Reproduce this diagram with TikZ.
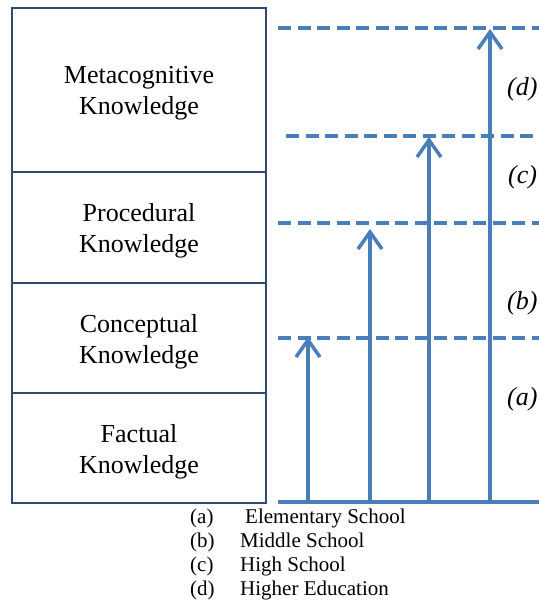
\documentclass[tikz,border=0pt]{standalone}
\usepackage{fontspec}
\setmainfont{Liberation Serif}
\usepackage{xcolor}
\usetikzlibrary{arrows.meta}

\definecolor{boxline}{HTML}{2F4A6D}
\definecolor{levelblue}{HTML}{4A7EBB}

\begin{document}
\begin{tikzpicture}[x=1pt, y=-1pt,
  every node/.style={font=\fontsize{26}{31}\selectfont, align=center},
  kbox/.style={draw=boxline, line width=2.5pt, minimum width=254pt, inner sep=0pt},
  level/.style={levelblue, line width=3.5pt, dash pattern=on 13pt off 6.5pt},
  rise/.style={levelblue, line width=3.5pt,
    -{Straight Barb[length=17pt, width=24pt, line width=3.5pt]}},
  tag/.style={anchor=west, inner sep=0pt, font=\fontsize{26}{30}\selectfont\itshape},
  legend/.style={anchor=base west, inner sep=0pt, font=\fontsize{21}{24}\selectfont}]
  \useasboundingbox (0,0) rectangle (538,602);

  % knowledge levels
  \node[kbox, minimum height=164pt] (meta) at (139,90) {};
  \node[kbox, minimum height=111pt] (proc) at (139,227.5) {};
  \node[kbox, minimum height=110pt] (conc) at (139,338) {};
  \node[kbox, minimum height=110pt] (fact) at (139,448) {};
  \node (tmeta) at (139,93) {Metacognitive\\Knowledge};
  \node (tproc) at (139,231) {Procedural\\Knowledge};
  \node (tconc) at (139,342) {Conceptual\\Knowledge};
  \node (tfact) at (139,452) {Factual\\Knowledge};

  % level marks
  \coordinate (d0) at (278,28);  \coordinate (d1) at (545,28);
  \coordinate (c0) at (286,136); \coordinate (c1) at (545,136);
  \coordinate (b0) at (278,223); \coordinate (b1) at (545,223);
  \coordinate (a0) at (278,338); \coordinate (a1) at (545,338);
  \draw[level] (d0) -- (d1);
  \draw[level] (c0) -- (c1);
  \draw[level] (b0) -- (b1);
  \draw[level] (a0) -- (a1);

  % ground line and arrows
  \coordinate (g0) at (278,502); \coordinate (g1) at (545,502);
  \draw[levelblue, line width=3.5pt] (g0) -- (g1);
  \coordinate (ea) at (308,502); \coordinate (ta) at (308,337);
  \coordinate (eb) at (370,502); \coordinate (tb) at (370,229);
  \coordinate (ec) at (429,502); \coordinate (tc) at (429,137);
  \coordinate (ed) at (490,502); \coordinate (td) at (490,29);
  \draw[rise] (ea) -- (ta);
  \draw[rise] (eb) -- (tb);
  \draw[rise] (ec) -- (tc);
  \draw[rise] (ed) -- (td);

  \node[tag] (ld) at (507,89) {(d)};
  \node[tag] (lc) at (508,177) {(c)};
  \node[tag] (lb) at (507,303) {(b)};
  \node[tag] (la) at (507,399) {(a)};

  % legend
  \node[legend] (k1) at (190,523) {(a)};
  \node[legend] (k2) at (190,547) {(b)};
  \node[legend] (k3) at (190,571) {(c)};
  \node[legend] (k4) at (190,595) {(d)};
  \node[legend] (s1) at (245,523) {Elementary School};
  \node[legend] (s2) at (240,547) {Middle School};
  \node[legend] (s3) at (240,571) {High School};
  \node[legend] (s4) at (240,595) {Higher Education};
\end{tikzpicture}
\end{document}
